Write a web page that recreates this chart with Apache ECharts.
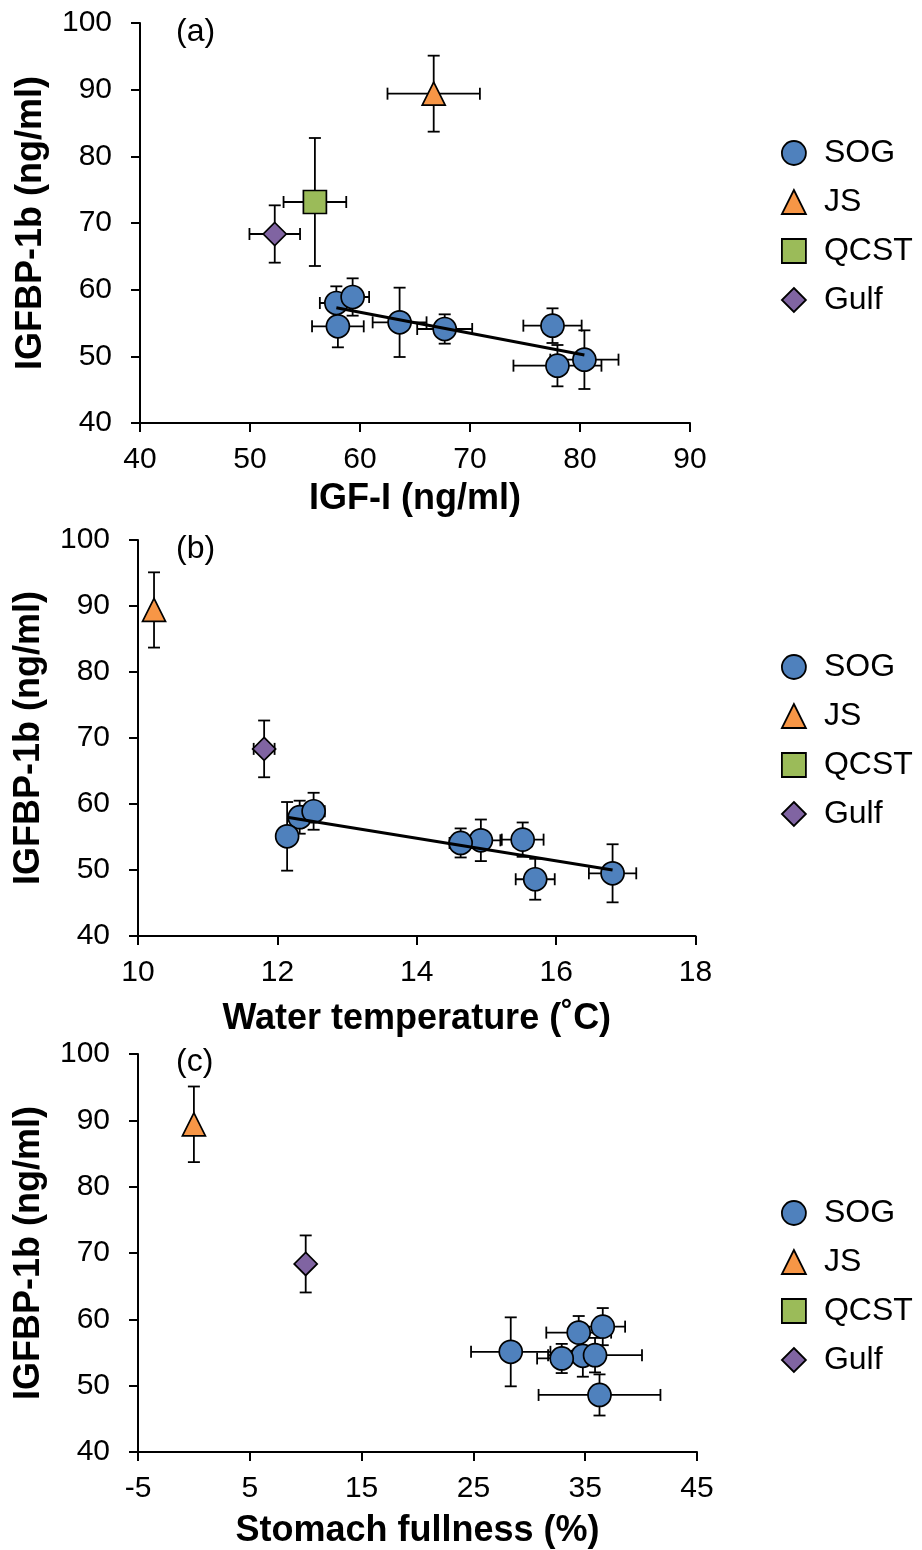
<!DOCTYPE html>
<html>
<head>
<meta charset="utf-8">
<script src="https://cdn.jsdelivr.net/npm/echarts@6/dist/echarts.min.js"></script>
<style>
html,body{margin:0;padding:0;background:#fff;}
#chart{width:922px;height:1550px;}
</style>
</head>
<body>
<div id="chart"></div>
<script>
// ---------- DATA ----------
const groupNames = ['SOG', 'JS', 'QCST', 'Gulf'];

// SOG (8 sampling groups), IGFBP-1b (ng/ml) with error
const sogIgfbp      = [58.0, 58.9, 54.5, 55.1, 54.1, 54.6, 48.6, 49.5];
const sogIgfbpErr   = [2.5, 2.8, 3.15, 5.2, 2.2, 2.6, 3.1, 4.4];
// IGF-I (ng/ml)
const sogIgf        = [57.85, 59.33, 57.99, 63.6, 67.7, 77.5, 77.95, 80.4];
const sogIgfErr     = [1.5, 1.5, 2.35, 2.45, 2.5, 2.65, 4.0, 3.1];
// Water temperature (°C)
const sogTemp       = [12.32, 12.52, 14.92, 12.14, 14.63, 15.52, 15.70, 16.81];
const sogTempErr    = [0.11, 0.16, 0.28, 0.05, 0.16, 0.30, 0.28, 0.34];
// Stomach fullness (%)
const sogStomach    = [34.42, 36.57, 34.79, 28.34, 32.9, 35.88, 36.28, null];
const sogStomachErr = [2.9, 2.0, 1.0, 3.55, 2.2, 4.2, 5.45, null];

// JS
const jsIgfbp = [89.4], jsIgfbpErr = [5.7];
const jsIgf = [66.7], jsIgfErr = [4.2];
const jsTemp = [10.23], jsTempErr = [0];
const jsStomach = [0], jsStomachErr = [0];

// QCST (only panel a)
const qcstIgfbp = [73.15], qcstIgfbpErr = [9.6];
const qcstIgf = [55.9], qcstIgfErr = [2.85];

// Gulf
const gulfIgfbp = [68.35], gulfIgfbpErr = [4.3];
const gulfIgf = [52.25], gulfIgfErr = [2.3];
const gulfTemp = [11.81], gulfTempErr = [0.15];
const gulfStomach = [10.0], gulfStomachErr = [0];

// Regression lines (SOG)
const trendIgfX = [57.85, 80.4], trendIgfY = [57.3, 50.2];
const trendTempX = [12.14, 16.81], trendTempY = [58.0, 50.0];

// Tick values
const yTicks = [40, 50, 60, 70, 80, 90, 100];
const xTicksIgf = [40, 50, 60, 70, 80, 90];
const xTicksTemp = [10, 12, 14, 16, 18];
const xTicksStomach = [-5, 5, 15, 25, 35, 45];

const panelLabels = ['(a)', '(b)', '(c)'];
const xTitles = ['IGF-I (ng/ml)', 'Water temperature (˚C)', 'Stomach fullness (%)'];
const yTitle = 'IGFBP-1b (ng/ml)';

// ---------- STYLE ----------
const FONT = '"Liberation Sans", Arial, Helvetica, sans-serif';
const colors = { SOG: '#4F81BD', JS: '#F79646', QCST: '#9BBB59', Gulf: '#8064A2' };
const symbols = { SOG: 'circle', JS: 'triangle', QCST: 'rect', Gulf: 'diamond' };
const grids = [
  { left: 140, top: 23, width: 550, height: 400 },
  { left: 138, top: 540, width: 557.5, height: 396 },
  { left: 138, top: 1054, width: 559, height: 398 }
];
const legendTops = [132, 646, 1192];
const labelTops = [16, 533, 1046];
const xNameGaps = [58, 65, 61];

function zip(xs, ys) {
  const out = [];
  for (let i = 0; i < xs.length; i++) {
    if (xs[i] == null || ys[i] == null) continue;
    out.push([xs[i], ys[i]]);
  }
  return out;
}
function zipErr(xs, xe, ys, ye) {
  const out = [];
  for (let i = 0; i < xs.length; i++) {
    if (xs[i] == null || ys[i] == null) continue;
    out.push([xs[i], ys[i], xe[i] || 0, ye[i] || 0]);
  }
  return out;
}

function renderErr(params, api) {
  const x = api.value(0), y = api.value(1), xe = api.value(2), ye = api.value(3);
  const style = { stroke: '#000', lineWidth: 1.8, fill: null };
  const cap = 6;
  const ch = [];
  if (xe > 0) {
    const l = api.coord([x - xe, y]), r = api.coord([x + xe, y]);
    ch.push({ type: 'line', shape: { x1: l[0], y1: l[1], x2: r[0], y2: r[1] }, style });
    ch.push({ type: 'line', shape: { x1: l[0], y1: l[1] - cap, x2: l[0], y2: l[1] + cap }, style });
    ch.push({ type: 'line', shape: { x1: r[0], y1: r[1] - cap, x2: r[0], y2: r[1] + cap }, style });
  }
  if (ye > 0) {
    const t = api.coord([x, y + ye]), b = api.coord([x, y - ye]);
    ch.push({ type: 'line', shape: { x1: t[0], y1: t[1], x2: b[0], y2: b[1] }, style });
    ch.push({ type: 'line', shape: { x1: t[0] - cap, y1: t[1], x2: t[0] + cap, y2: t[1] }, style });
    ch.push({ type: 'line', shape: { x1: b[0] - cap, y1: b[1], x2: b[0] + cap, y2: b[1] }, style });
  }
  return { type: 'group', children: ch };
}

// per-panel group data: [xs, xErr, ys, yErr]
const panelData = [
  {
    SOG: [sogIgf, sogIgfErr, sogIgfbp, sogIgfbpErr],
    JS: [jsIgf, jsIgfErr, jsIgfbp, jsIgfbpErr],
    QCST: [qcstIgf, qcstIgfErr, qcstIgfbp, qcstIgfbpErr],
    Gulf: [gulfIgf, gulfIgfErr, gulfIgfbp, gulfIgfbpErr]
  },
  {
    SOG: [sogTemp, sogTempErr, sogIgfbp, sogIgfbpErr],
    JS: [jsTemp, jsTempErr, jsIgfbp, jsIgfbpErr],
    Gulf: [gulfTemp, gulfTempErr, gulfIgfbp, gulfIgfbpErr]
  },
  {
    SOG: [sogStomach, sogStomachErr, sogIgfbp, sogIgfbpErr],
    JS: [jsStomach, jsStomachErr, jsIgfbp, jsIgfbpErr],
    Gulf: [gulfStomach, gulfStomachErr, gulfIgfbp, gulfIgfbpErr]
  }
];
const trends = [[trendIgfX, trendIgfY], [trendTempX, trendTempY], null];
const xTickSets = [xTicksIgf, xTicksTemp, xTicksStomach];

const axisLine = { show: true, onZero: false, lineStyle: { color: '#000', width: 2 } };
const axisTick = { show: true, inside: false, length: 9, lineStyle: { color: '#000', width: 2 } };
const tickFont = { color: '#000', fontSize: 30, fontFamily: FONT };

const xAxes = [], yAxes = [], series = [], legends = [], graphics = [];
for (let i = 0; i < 3; i++) {
  const ticks = xTickSets[i];
  xAxes.push({
    type: 'value', gridIndex: i,
    min: ticks[0], max: ticks[ticks.length - 1],
    axisLine, splitLine: { show: false },
    axisTick: Object.assign({}, axisTick, { customValues: ticks }),
    axisLabel: Object.assign({}, tickFont, { margin: 22, customValues: ticks }),
    name: xTitles[i], nameLocation: 'middle', nameGap: xNameGaps[i],
    nameTextStyle: { color: '#000', fontSize: 36, fontWeight: 'bold', fontFamily: FONT }
  });
  yAxes.push({
    type: 'value', gridIndex: i,
    min: yTicks[0], max: yTicks[yTicks.length - 1],
    axisLine, splitLine: { show: false },
    axisTick: Object.assign({}, axisTick, { customValues: yTicks }),
    axisLabel: Object.assign({}, tickFont, { margin: 28, customValues: yTicks }),
    name: yTitle, nameLocation: 'middle', nameGap: 91, nameRotate: 90,
    nameTextStyle: { color: '#000', fontSize: 36, fontWeight: 'bold', fontFamily: FONT }
  });
  const pd = panelData[i];
  Object.keys(pd).forEach(g => {
    const [xs, xe, ys, ye] = pd[g];
    series.push({
      type: 'custom', name: g + ' error', xAxisIndex: i, yAxisIndex: i,
      renderItem: renderErr, data: zipErr(xs, xe, ys, ye),
      encode: { x: 0, y: 1 }, z: 1, silent: true, clip: false
    });
    series.push({
      type: 'scatter', name: g, xAxisIndex: i, yAxisIndex: i,
      symbol: symbols[g], symbolSize: 23,
      itemStyle: { color: colors[g], borderColor: '#000', borderWidth: 1.7, opacity: 1 },
      data: zip(xs, ys), z: 3
    });
  });
  if (trends[i]) {
    series.push({
      type: 'line', name: 'trend', xAxisIndex: i, yAxisIndex: i,
      data: zip(trends[i][0], trends[i][1]),
      symbol: 'none', showSymbol: false,
      lineStyle: { color: '#000', width: 3 }, z: 5, silent: true
    });
  }
  legends.push({
    orient: 'vertical', left: 776, top: legendTops[i],
    itemWidth: 24, itemHeight: 24, itemGap: 17, selectedMode: false,
    textStyle: { color: '#000', fontSize: 32, fontFamily: FONT, padding: [0, 0, 0, 13] },
    data: groupNames.map(g => ({
      name: g, icon: symbols[g],
      itemStyle: { color: colors[g], borderColor: '#000', borderWidth: 1.8 }
    }))
  });
  graphics.push({
    type: 'text', left: 176, top: labelTops[i],
    style: { text: panelLabels[i], fill: '#000', font: '32px ' + FONT }
  });
}

const chart = echarts.init(document.getElementById('chart'), null, { renderer: 'canvas' });
chart.setOption({
  animation: false,
  backgroundColor: '#fff',
  grid: grids.map(g => Object.assign({ containLabel: false }, g)),
  xAxis: xAxes,
  yAxis: yAxes,
  legend: legends,
  graphic: graphics,
  series: series
});
</script>
</body>
</html>
